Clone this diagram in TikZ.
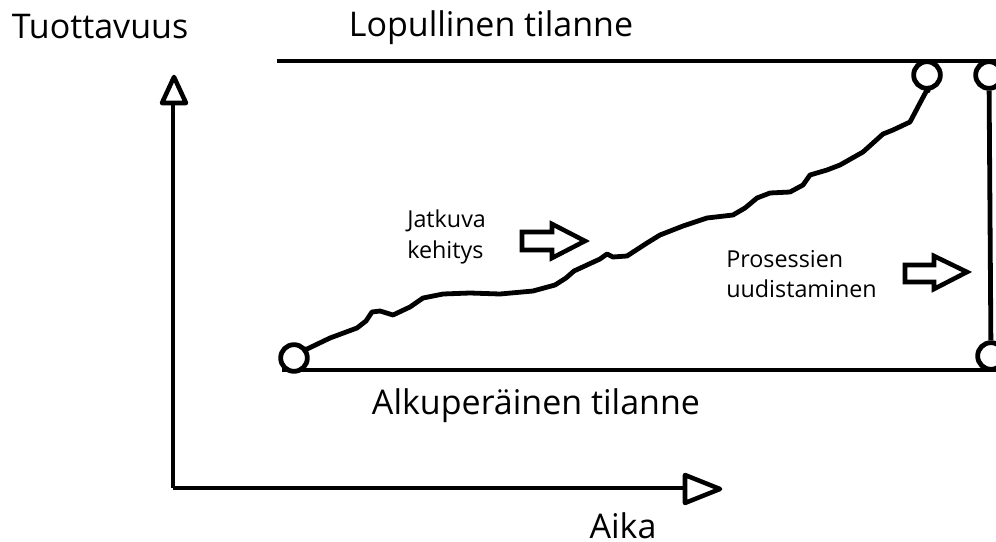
\documentclass[tikz,border=0pt]{standalone}
\usepackage{fontspec}
\setmainfont{Open Sans}
\begin{document}
\begin{tikzpicture}[x=0.75pt,y=-0.75pt,
  thickline/.style={line width=3.6pt},
  wig/.style={line width=3.6pt,line cap=round,line join=round},
  dot/.style={circle,draw,line width=3.6pt,fill=white,minimum size=20pt,inner sep=0pt},
  bigtxt/.style={font=\fontsize{25.5pt}{30pt}\selectfont,inner sep=0pt},
  smalltxt/.style={font=\fontsize{17.5pt}{23pt}\selectfont,inner sep=0pt,align=left,anchor=west},
  blockarrow/.style={line width=3.4pt,line join=miter,fill=white},
  openhead/.style={line width=3.4pt,line join=round,fill=white}]
\useasboundingbox (0,0) rectangle (996,542);
% frame lines
\coordinate (tl) at (277,61);
\coordinate (tr) at (1000,61);
\coordinate (bl) at (282,370);
\coordinate (br) at (1000,370);
\draw[thickline] (tl) -- (tr);
\draw[thickline] (bl) -- (br);
% axes
\coordinate (origin) at (173,488);
\coordinate (yend) at (173,103);
\coordinate (xend) at (685,488);
\draw[thickline] (origin) -- (yend);
\draw[thickline] (origin) -- (xend);
\draw[openhead] (162,103) -- (174,77) -- (186,103) -- cycle;
\draw[openhead] (685,475) -- (720,489) -- (685,503) -- cycle;
% right vertical with circles
\node[dot] (rtop) at (989,75) {};
\node[dot] (rbot) at (991,356) {};
\draw[thickline] (rtop) -- (rbot);
% curve
\node[dot] (start) at (294,358) {};
\node[dot] (finish) at (927,75) {};
\draw[wig] (start) -- (305,350) -- (330,338) -- (357,328) -- (366,321) -- (372,312) -- (380,311) -- (393,315)
  -- (410,307) -- (423,298) -- (443,294) -- (470,293) -- (500,294) -- (533,291) -- (555,285) -- (566,278)
  -- (574,271) -- (587,265) -- (600,259) -- (607,254) -- (613,257) -- (627,256) -- (647,243) -- (660,235)
  -- (683,226) -- (707,218) -- (733,215) -- (745,208) -- (757,198) -- (770,193) -- (790,192) -- (803,185)
  -- (810,175) -- (827,170) -- (840,165) -- (863,152) -- (883,134) -- (893,130) -- (910,122) -- (920,103)
  -- (928,88) -- (finish);
% block arrows
\draw[blockarrow] (522,232) -- (552,232) -- (552,224) -- (585,241) -- (552,258) -- (552,250) -- (522,250) -- cycle;
\draw[blockarrow] (905,265) -- (934,265) -- (934,256) -- (967,272) -- (934,289) -- (934,282) -- (905,282) -- cycle;
% texts
\node[bigtxt] (ylab) at (100,27) {Tuottavuus};
\node[bigtxt] (top) at (491,28) {Lopullinen tilanne};
\node[bigtxt] (bottom) at (536,406) {Alkuperäinen tilanne};
\node[bigtxt] (xlab) at (623,526) {Aika};
\node[smalltxt] (jk) at (407,237) {Jatkuva\\kehitys};
\node[smalltxt] (pu) at (726,274) {Prosessien\\uudistaminen};
\end{tikzpicture}
\end{document}
